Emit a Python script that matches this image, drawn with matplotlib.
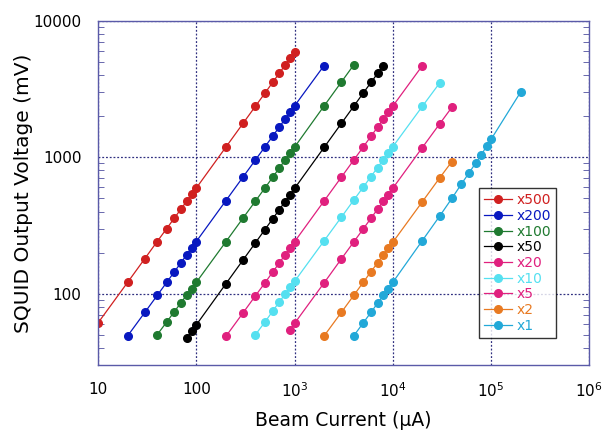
import numpy as np
import matplotlib.pyplot as plt
from matplotlib.ticker import FixedLocator, NullFormatter, LogLocator

# beam current (uA) and SQUID output (mV) for each gain setting
i_500 = [10, 20, 30, 40, 50, 60, 70, 80, 90, 100, 200, 300, 400, 500, 600, 700, 800, 900, 1000]
v_500 = [61, 121, 181, 241, 300, 359, 418, 477, 535, 594, 1185, 1775, 2365, 2950, 3540, 4130, 4720, 5300, 5900]

i_200 = [20, 30, 40, 50, 60, 70, 80, 90, 100, 200, 300, 400, 500, 600, 700, 800, 900, 1000, 2000]
v_200 = [49, 73, 97, 121, 145, 169, 193, 217, 241, 480, 718, 955, 1192, 1428, 1665, 1900, 2135, 2375, 4700]

i_100 = [40, 50, 60, 70, 80, 90, 100, 200, 300, 400, 500, 600, 700, 800, 900, 1000, 2000, 3000, 4000]
v_100 = [50, 62, 74, 86, 98, 109, 121, 240, 359, 477, 595, 714, 833, 952, 1071, 1185, 2375, 3560, 4740]

i_50 = [80, 90, 100, 200, 300, 400, 500, 600, 700, 800, 900, 1000, 2000, 3000, 4000, 5000, 6000, 7000, 8000]
v_50 = [47, 53, 59, 118, 177, 236, 295, 354, 413, 472, 531, 590, 1180, 1770, 2360, 2950, 3530, 4110, 4680]

i_20 = [200, 300, 400, 500, 600, 700, 800, 900, 1000, 2000, 3000, 4000, 5000, 6000, 7000, 8000, 9000, 10000, 20000]
v_20 = [48.6, 72.5, 96.5, 120, 144, 168, 192, 216, 240, 478, 715, 952, 1188, 1424, 1660, 1895, 2130, 2365, 4690]

i_10 = [400, 500, 600, 700, 800, 900, 1000, 2000, 3000, 4000, 5000, 6000, 7000, 8000, 9000, 10000, 20000, 30000]
v_10 = [50, 62, 74.5, 87, 99, 111, 123, 244, 364, 484, 603, 722, 840, 958, 1075, 1193, 2360, 3500]

i_5 = [900, 1000, 2000, 3000, 4000, 5000, 6000, 7000, 8000, 9000, 10000, 20000, 30000, 40000]
v_5 = [54.5, 60.5, 120, 180, 239, 298, 357, 416, 475, 533, 592, 1178, 1755, 2325]

i_2 = [2000, 3000, 4000, 5000, 6000, 7000, 8000, 9000, 10000, 20000, 30000, 40000]
v_2 = [49, 73, 97, 121, 145, 168, 192, 215, 238, 472, 705, 930]

i_1 = [4000, 5000, 6000, 7000, 8000, 9000, 10000, 20000, 30000, 40000, 50000, 60000, 70000, 80000, 90000, 100000, 200000]
v_1 = [49, 61, 73, 85, 97, 109, 121, 245, 370, 500, 637, 771, 910, 1040, 1210, 1350, 3000]

labels = ["x500", "x200", "x100", "x50", "x20", "x10", "x5", "x2", "x1"]
colors = ["#d02020", "#0818c0", "#1f7a30", "#000000", "#e0207e", "#55e0f0", "#e0207e", "#e87a22", "#22a8d8"]
series = [(i_500, v_500), (i_200, v_200), (i_100, v_100), (i_50, v_50), (i_20, v_20),
          (i_10, v_10), (i_5, v_5), (i_2, v_2), (i_1, v_1)]

fig = plt.figure(figsize=(6.05, 4.33), dpi=100)
ax = fig.add_axes([0.162, 0.157, 0.812, 0.795])

for (x, y), lab, c in zip(series, labels, colors):
    ax.plot(x, y, color=c, lw=0.9, marker='o', ms=5.5, mec=c, mfc=c, label=lab)

ax.set_xscale('log')
ax.set_yscale('log')
ax.set_xlim(10, 1e6)
ax.set_ylim(30, 10000)

ax.xaxis.set_major_locator(FixedLocator([10, 100, 1e3, 1e4, 1e5, 1e6]))
ax.set_xticklabels(["10", "100", "10$^3$", "10$^4$", "10$^5$", "10$^6$"])
ax.xaxis.set_minor_locator(FixedLocator([]))
ax.yaxis.set_major_locator(FixedLocator([100, 1000, 10000]))
ax.set_yticklabels(["100", "1000", "10000"])
ax.yaxis.set_minor_locator(LogLocator(base=10, subs=np.arange(2, 10), numticks=20))
ax.yaxis.set_minor_formatter(NullFormatter())

ax.tick_params(which='both', direction='in', right=True, colors='#5050a0', labelcolor='black',
               labelsize=11)
ax.tick_params(which='major', length=0, pad=12)
ax.tick_params(which='minor', length=4)

for s in ax.spines.values():
    s.set_color('#5a5aa8')
    s.set_linewidth(1.0)

ax.grid(True, which='major', linestyle=(0, (1.5, 1.5)), color='#303080', lw=0.9)

ax.set_xlabel("Beam Current (\u03bcA)", fontsize=13.5, labelpad=8)
ax.set_ylabel("SQUID Output Voltage (mV)", fontsize=14.5, labelpad=0)

leg = ax.legend(loc='upper left', bbox_to_anchor=(0.775, 0.515), fontsize=10, frameon=True,
                fancybox=False, edgecolor='black', handlelength=2.0, handletextpad=0.3,
                labelspacing=0.12, borderpad=0.4, borderaxespad=0)
leg.get_frame().set_linewidth(1.0)
for t, c in zip(leg.get_texts(), colors):
    t.set_color(c)

fig.savefig("out.png", dpi=100)
